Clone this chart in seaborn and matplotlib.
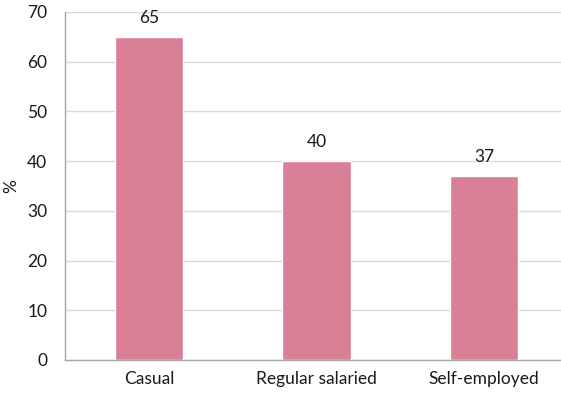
import matplotlib
matplotlib.use("Agg")
import matplotlib.pyplot as plt
import seaborn as sns
import pandas as pd

categories = ["Casual", "Regular salaried", "Self-employed"]
values = [65, 40, 37]
yticks = [0, 10, 20, 30, 40, 50, 60, 70]

df = pd.DataFrame({"category": categories, "pct": values})

sns.set_theme(style="white")
plt.rcParams["font.family"] = ["Lato", "DejaVu Sans"]

fig = plt.figure(figsize=(5.61, 3.93), dpi=100)
ax = fig.add_axes([0.1163, 0.084, 0.8957, 0.8855])

sns.barplot(data=df, x="category", y="pct", color="#D98096", saturation=1,
            width=0.41, ax=ax, zorder=3)

for i, v in enumerate(values):
    ax.annotate(f"{v}", (i, v), xytext=(0, 8), textcoords="offset points",
                ha="center", va="bottom", fontsize=12.5, color="#1a1a1a")

ax.set_ylim(0, 70)
ax.set_yticks(yticks)
ax.yaxis.grid(True, color="#D9D9D9", linewidth=1, zorder=0)
ax.set_axisbelow(True)
ax.set_xlabel("")
ax.set_ylabel("%", fontsize=12.5, color="#1a1a1a")
ax.yaxis.set_label_coords(-0.092, 0.5)
ax.tick_params(axis="both", labelsize=12.5, colors="#1a1a1a", length=0)
ax.tick_params(axis="y", pad=13)
ax.tick_params(axis="x", pad=8)
for s in ["top", "right"]:
    ax.spines[s].set_visible(False)
for s in ["left", "bottom"]:
    ax.spines[s].set_color("#A6A6A6")
    ax.spines[s].set_linewidth(1)

fig.savefig("out.png", dpi=100)
